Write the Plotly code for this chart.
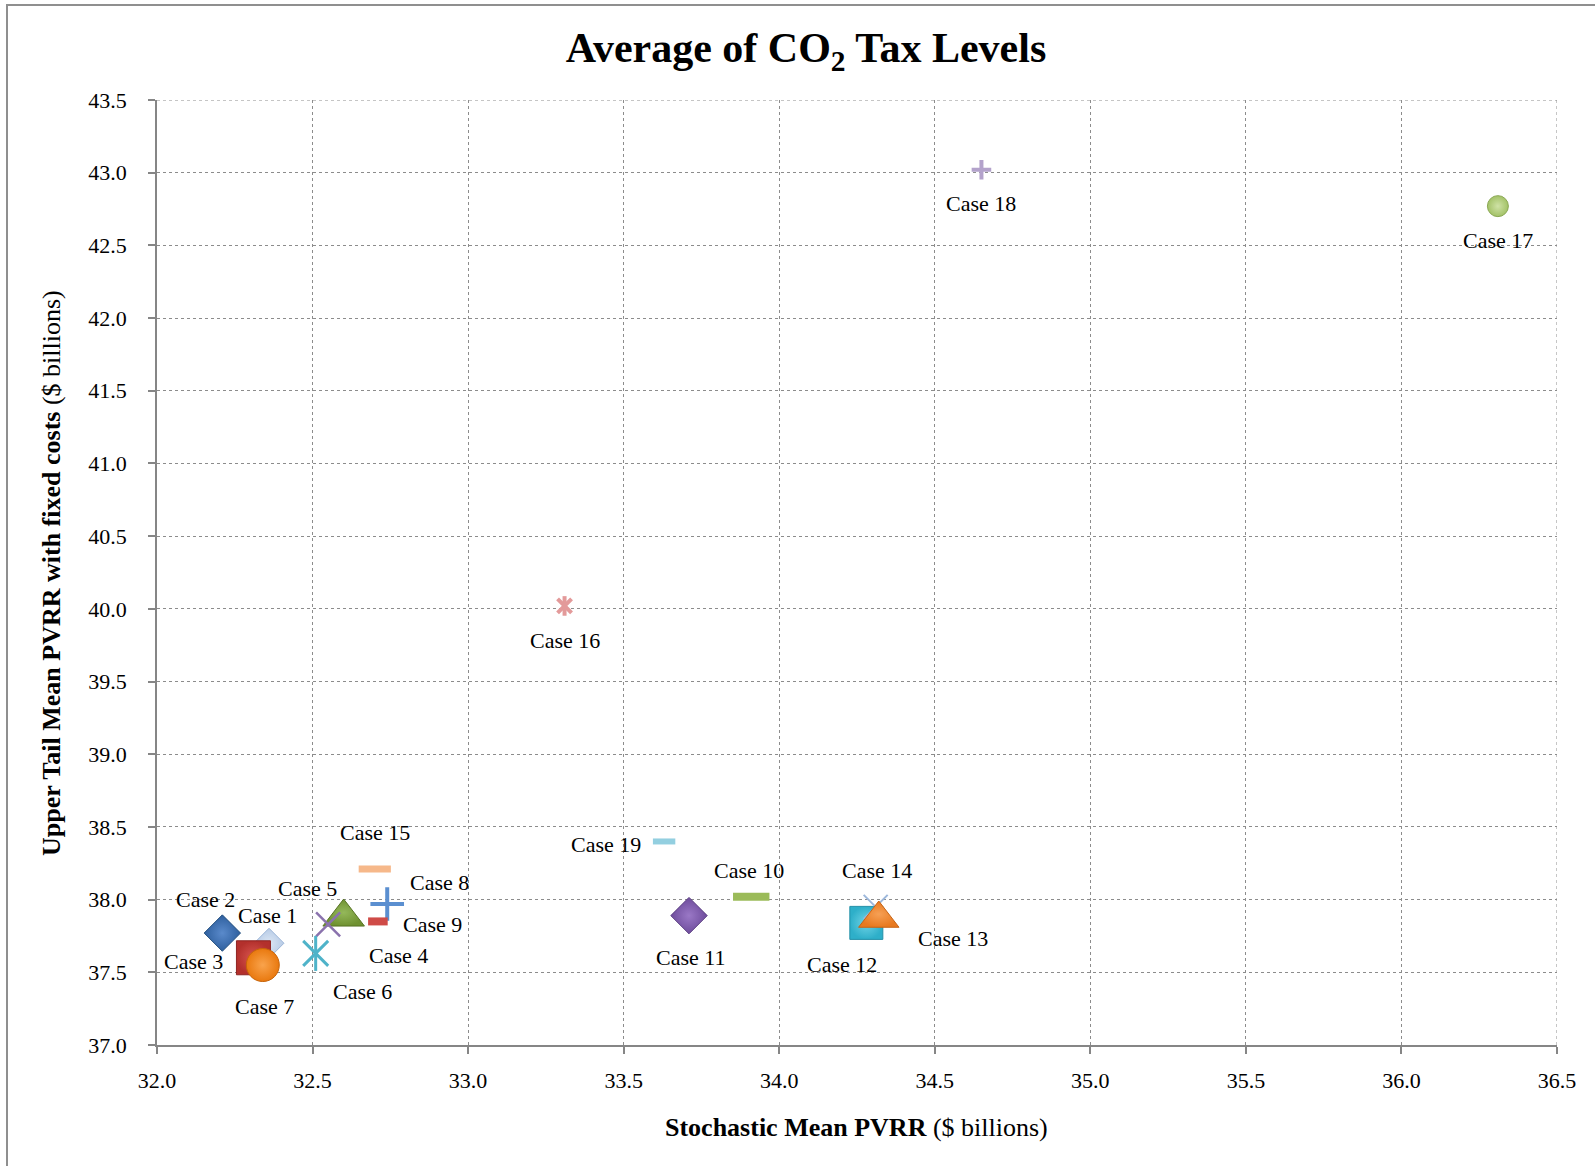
import plotly.graph_objects as go

# ---- data -------------------------------------------------------------
cases = [f"Case {i}" for i in range(1, 20)]
stochastic_mean = [32.36, 32.21, 32.31, 32.60, 32.55, 32.51, 32.34, 32.74, 32.71, 33.91,
                   33.71, 34.28, 34.32, 34.31, 32.70, 33.31, 36.31, 34.65, 33.63]
upper_tail_mean = [37.70, 37.77, 37.60, 37.88, 37.83, 37.63, 37.55, 37.97, 37.85, 38.02,
                   37.89, 37.84, 37.87, 37.95, 38.21, 40.02, 42.77, 43.02, 38.40]
x_ticks = [32.0, 32.5, 33.0, 33.5, 34.0, 34.5, 35.0, 35.5, 36.0, 36.5]
y_ticks = [37.0, 37.5, 38.0, 38.5, 39.0, 39.5, 40.0, 40.5, 41.0, 41.5, 42.0, 42.5, 43.0, 43.5]

# ---- marker styles: list of (symbol, size, fill colour, line colour, line width) ----
# a "star" is an X with a vertical bar through it, so it gets two layers
styles = [
    [("diamond",          23, "#b7cbe6", "#9db6d8", 1)],    # Case 1
    [("diamond",          28, "#2e5f9e", "#24507f", 1)],    # Case 2
    [("square",           34, "#b3302c", "#8e2421", 1)],    # Case 3
    [("triangle-up",      36, "#6f9131", "#587425", 1)],    # Case 4
    [("x-thin-open",      24, "#8a72ad", "#8a72ad", 2.5)],  # Case 5
    [("x-thin-open",      25, "#4fb3c9", "#4fb3c9", 3),
     ("line-ns-open",     25, "#4fb3c9", "#4fb3c9", 3)],    # Case 6
    [("circle",           33, "#e9790f", "#c7640a", 1)],    # Case 7
    [("cross-thin-open",  24, "#5b8fd0", "#5b8fd0", 4)],    # Case 8
    [("line-ew-open",     14, "#cf4b47", "#cf4b47", 8)],    # Case 9
    [("line-ew-open",     26, "#9bbb59", "#9bbb59", 8)],    # Case 10
    [("diamond",          28, "#6e4c9c", "#57397f", 1)],    # Case 11
    [("square",           33, "#2eafc9", "#2390a8", 1)],    # Case 12
    [("triangle-up",      35, "#e8791f", "#c86414", 1)],    # Case 13
    [("x-thin-open",      24, "#9db8dc", "#9db8dc", 2)],    # Case 14
    [("line-ew-open",     23, "#f6b88a", "#f6b88a", 7)],    # Case 15
    [("x-thin-open",      14, "#e39a9a", "#e39a9a", 4),
     ("line-ns-open",     14, "#e39a9a", "#e39a9a", 4)],    # Case 16
    [("circle",           21, "#a3c267", "#8aa853", 1)],    # Case 17
    [("cross-thin-open",  14, "#b3a2cb", "#b3a2cb", 4)],    # Case 18
    [("line-ew-open",     16, "#93cfe0", "#93cfe0", 6)],    # Case 19
]
highlight = {0: "#dbe6f4", 1: "#5a8acb", 2: "#d9564f", 3: "#94b85a", 6: "#f9a34c",
             10: "#9a78c6", 11: "#6fd3e6", 12: "#f6a055", 16: "#cfe2a6"}

# label offsets from each marker, in screen pixels (dx right, dy down)
label_offsets = [(-2, -28), (-17, -34), (-60, 4), (55, 38), (-21, -36), (47, 38),
                 (2, 41), (52, -21), (55, 3), (-2, -26), (1, 42), (-24, 42),
                 (74, 20), (1, -36), (0, -37), (0, 35), (0, 34), (0, 34), (-58, 3)]

# draw order (later traces on top)
draw_order = [0, 1, 2, 3, 4, 5, 6, 7, 8, 9, 10, 11, 13, 12, 14, 15, 16, 17, 18]

# ---- geometry ----------------------------------------------------------
W, H = 1595, 1166
ML, MR, MT, MB = 157, 38, 100, 121
PW, PH = W - ML - MR, H - MT - MB


def px_x(px):
    return (px - ML) / PW


def px_y(py):
    return (H - MB - py) / PH


SERIF = "Liberation Serif"
AXIS_GREY = "#868686"
GRID_GREY = "#8c8c8c"

fig = go.Figure()

for i in draw_order:
    for sym, size, fill, lcol, lw in styles[i]:
        marker = dict(symbol=sym, size=size, color=fill, line=dict(color=lcol, width=lw))
        if i in highlight:
            marker["gradient"] = dict(type="radial", color=highlight[i])
        fig.add_trace(go.Scatter(
            x=[stochastic_mean[i]], y=[upper_tail_mean[i]],
            mode="markers", name=cases[i], marker=marker,
            hovertemplate=cases[i] + "<br>%{x:.2f}, %{y:.2f}<extra></extra>",
        ))

annotations = []
for i, name in enumerate(cases):
    dx, dy = label_offsets[i]
    annotations.append(dict(
        x=stochastic_mean[i], y=upper_tail_mean[i], xref="x", yref="y",
        text=name, showarrow=False, xshift=dx, yshift=-dy,
        xanchor="center", yanchor="middle",
        font=dict(family=SERIF, size=22, color="#000000"),
    ))

# axis titles
annotations.append(dict(
    x=px_x(856), y=px_y(1127), xref="paper", yref="paper", showarrow=False,
    text="<b>Stochastic Mean PVRR</b> ($ billions)", xanchor="center", yanchor="middle",
    font=dict(family=SERIF, size=26, color="#000000"),
))
annotations.append(dict(
    x=px_x(51), y=px_y(573), xref="paper", yref="paper", showarrow=False,
    text="<b>Upper Tail Mean PVRR with fixed costs</b> ($ billions)", textangle=-90,
    xanchor="center", yanchor="middle",
    font=dict(family=SERIF, size=26, color="#000000"),
))

axis_common = dict(
    showline=True, linecolor=AXIS_GREY, linewidth=1.5,
    ticks="outside", ticklen=7, tickcolor=AXIS_GREY, tickwidth=1.5,
    showgrid=True, gridcolor=GRID_GREY, gridwidth=1, griddash="dot",
    zeroline=False, tickfont=dict(family=SERIF, size=22, color="#000000"),
    fixedrange=True,
)

fig.update_layout(
    width=W, height=H,
    margin=dict(l=ML, r=MR, t=MT, b=MB),
    paper_bgcolor="#ffffff", plot_bgcolor="#ffffff",
    showlegend=False,
    title=dict(
        text="<b>Average of CO<sub>2</sub> Tax Levels</b>",
        x=806 / W, xref="container", xanchor="center",
        y=1 - 47 / H, yref="container", yanchor="middle",
        font=dict(family=SERIF, size=42, color="#000000"),
    ),
    xaxis=dict(range=[x_ticks[0], x_ticks[-1]], tickvals=x_ticks,
               ticktext=[f"{v:.1f}" for v in x_ticks], ticklabelstandoff=8,
               **axis_common),
    yaxis=dict(range=[y_ticks[0], y_ticks[-1]], tickvals=y_ticks,
               ticktext=[f"{v:.1f}" for v in y_ticks], ticklabelstandoff=17,
               **axis_common),
    annotations=annotations,
    shapes=[
        # chart-area frame
        dict(type="rect", xref="paper", yref="paper",
             x0=px_x(7), x1=px_x(W + 10), y0=px_y(H + 10), y1=px_y(5),
             line=dict(color="#8f8f8f", width=2), fillcolor="rgba(0,0,0,0)", layer="below"),
        # gridlines along the top and right edges of the plot area
        dict(type="line", xref="x", yref="y",
             x0=x_ticks[0], x1=x_ticks[-1], y0=y_ticks[-1], y1=y_ticks[-1],
             line=dict(color=GRID_GREY, width=1, dash="dot"), layer="below"),
        dict(type="line", xref="x", yref="y",
             x0=x_ticks[-1], x1=x_ticks[-1], y0=y_ticks[0], y1=y_ticks[-1],
             line=dict(color=GRID_GREY, width=1, dash="dot"), layer="below"),
    ],
)

fig.write_html("out.html")
